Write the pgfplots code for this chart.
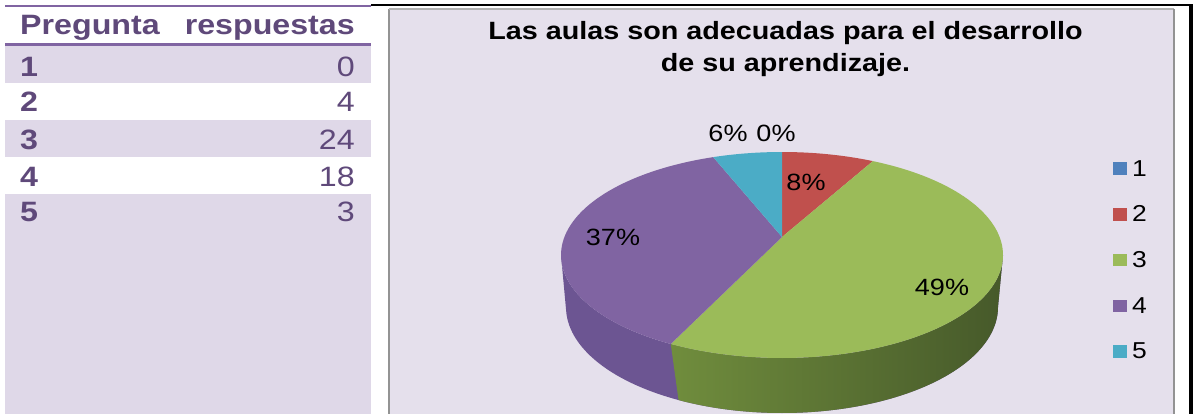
\documentclass[border=0pt]{standalone}
\usepackage{pgfplots}
\pgfplotsset{compat=1.18}
\usepackage{pgfplotstable}
\usepackage{fontspec}
\setmainfont{Liberation Sans}[FakeStretch=1.15]

\definecolor{tblpurple}{HTML}{5F497A}
\definecolor{tblline}{HTML}{8064A2}
\definecolor{tblshade}{HTML}{DFD8E8}
\definecolor{chartbg}{HTML}{E5E0EC}
\definecolor{c1}{HTML}{4F81BD}
\definecolor{c2}{HTML}{C0504D}
\definecolor{c3}{HTML}{9BBB59}
\definecolor{c4}{HTML}{8064A2}
\definecolor{c5}{HTML}{4BACC6}
\definecolor{c3sideL}{HTML}{708D3D}
\definecolor{c3sideD}{HTML}{46592A}
\definecolor{c4side}{HTML}{6C5592}

\newcommand\tblfont{\fontsize{28bp}{32bp}\selectfont}
\newcommand\titlefont{\fontsize{25bp}{30bp}\selectfont}
\newcommand\pctfont{\fontsize{23.5bp}{28bp}\selectfont}

\pgfplotstableread{
pregunta respuestas
1 0
2 4
3 24
4 18
5 3
}\datatable

\begin{document}
\begin{tikzpicture}
\pgfplotstablegetelem{0}{respuestas}\of\datatable \let\vA\pgfplotsretval
\pgfplotstablegetelem{1}{respuestas}\of\datatable \let\vB\pgfplotsretval
\pgfplotstablegetelem{2}{respuestas}\of\datatable \let\vC\pgfplotsretval
\pgfplotstablegetelem{3}{respuestas}\of\datatable \let\vD\pgfplotsretval
\pgfplotstablegetelem{4}{respuestas}\of\datatable \let\vE\pgfplotsretval
\pgfplotstablegetelem{0}{pregunta}\of\datatable \let\qA\pgfplotsretval
\pgfplotstablegetelem{1}{pregunta}\of\datatable \let\qB\pgfplotsretval
\pgfplotstablegetelem{2}{pregunta}\of\datatable \let\qC\pgfplotsretval
\pgfplotstablegetelem{3}{pregunta}\of\datatable \let\qD\pgfplotsretval
\pgfplotstablegetelem{4}{pregunta}\of\datatable \let\qE\pgfplotsretval
\pgfmathsetmacro\tot{\vA+\vB+\vC+\vD+\vE}
\pgfmathsetmacro\aA{\vA/\tot*360}
\pgfmathsetmacro\aB{(\vA+\vB)/\tot*360}
\pgfmathsetmacro\aC{(\vA+\vB+\vC)/\tot*360}
\pgfmathsetmacro\aD{(\vA+\vB+\vC+\vD)/\tot*360}
\pgfmathsetmacro\aE{360}
% perspective: slice angle -> angle on the projected rim
\pgfmathsetmacro\wC{\aC-10.4*sin(\aC)}
\begin{axis}[
  at={(0,0)}, anchor=south west,
  width=1193bp, height=414bp, scale only axis,
  xmin=0, xmax=1193, ymin=0, ymax=414, y dir=reverse,
  hide axis, clip=false,
  declare function={
    warp(\t)=\t-10.4*sin(\t);
    rimx(\t)=782+221*sin(\t);
    rimy(\t)=255-103*cos(\t);
    botx(\t)=782+216*sin(\t);
    boty(\t)=307-106*cos(\t);
  },
  legend image code/.code={\fill[#1,draw=none] (0bp,-6bp) rectangle (14bp,6.5bp);},
  legend style={at={(axis cs:1113,158)}, anchor=north west, draw=none, fill=none,
    font=\fontsize{23bp}{23bp}\selectfont, row sep=24.3bp, inner sep=0pt,
    nodes={inner sep=2bp}, /tikz/every odd column/.style={column sep=3bp}},
  legend cell align=left,
]
% backgrounds
\fill[chartbg] (390,9) rectangle (1174,414);
\draw[gray!85, line width=2bp] (389,9) -- (389,414);
\draw[gray!60, line width=1.5bp] (389,9) -- (1174,9);
\draw[gray!85, line width=2bp] (1174,9) -- (1174,414);
\fill[black] (1189,4.3) rectangle (1193,414);
\fill[tblline] (5,5) rectangle (371,6.7);
\fill[black] (371,4.3) rectangle (1193,6);
% table
\fill[tblshade] (5,46) rectangle (371,83);
\fill[tblshade] (5,120) rectangle (371,157);
\fill[tblshade] (5,194) rectangle (371,414);
\fill[tblline] (5,43.5) rectangle (371,46);
\node[anchor=base west, inner sep=0, text=tblpurple, font=\tblfont\bfseries] at (20,35) {Pregunta};
\node[anchor=base east, inner sep=0, text=tblpurple, font=\tblfont\bfseries] at (355,35) {respuestas};
\node[anchor=base west, inner sep=0, text=tblpurple, font=\tblfont\bfseries] at (20,76.7) {\qA};
\node[anchor=base east, inner sep=0, text=tblpurple, font=\tblfont] at (355,76.7) {\vA};
\node[anchor=base west, inner sep=0, text=tblpurple, font=\tblfont\bfseries] at (20,111.7) {\qB};
\node[anchor=base east, inner sep=0, text=tblpurple, font=\tblfont] at (355,111.7) {\vB};
\node[anchor=base west, inner sep=0, text=tblpurple, font=\tblfont\bfseries] at (20,149) {\qC};
\node[anchor=base east, inner sep=0, text=tblpurple, font=\tblfont] at (355,149) {\vC};
\node[anchor=base west, inner sep=0, text=tblpurple, font=\tblfont\bfseries] at (20,186) {\qD};
\node[anchor=base east, inner sep=0, text=tblpurple, font=\tblfont] at (355,186) {\vD};
\node[anchor=base west, inner sep=0, text=tblpurple, font=\tblfont\bfseries] at (20,221.7) {\qE};
\node[anchor=base east, inner sep=0, text=tblpurple, font=\tblfont] at (355,221.7) {\vE};
% title
\node[anchor=base, inner sep=0, font=\titlefont\bfseries] at (785.5,39.3) {Las aulas son adecuadas para el desarrollo};
\node[anchor=base, inner sep=0, font=\titlefont\bfseries] at (785.5,71.7) {de su aprendizaje.};
% pie sides: purple base over the whole front, then green part on top
\addplot[forget plot, fill=c4side, draw=none, domain=0:2, samples=181]
  ({x<=1 ? rimx(90+180*x) : botx(270-180*(x-1))},
   {x<=1 ? rimy(90+180*x) : boty(270-180*(x-1))}) -- cycle;
\addplot[forget plot, left color=c3sideL, right color=c3sideD, draw=none, domain=0:2, samples=151]
  ({x<=1 ? rimx(90+(\wC-90)*x) : botx(\wC-(\wC-90)*(x-1))},
   {x<=1 ? rimy(90+(\wC-90)*x) : boty(\wC-(\wC-90)*(x-1))}) -- cycle;
% pie tops
\addplot[forget plot, fill=c2, draw=none, domain=\aA:\aB, samples=30] ({rimx(warp(x))},{rimy(warp(x))}) -- (782,237) -- cycle;
\addplot[forget plot, fill=c3, draw=none, domain=\aB:\aC, samples=90] ({rimx(warp(x))},{rimy(warp(x))}) -- (782,237) -- cycle;
\addplot[forget plot, fill=c4, draw=none, domain=\aC:\aD, samples=70] ({rimx(warp(x))},{rimy(warp(x))}) -- (782,237) -- cycle;
\addplot[forget plot, fill=c5, draw=none, domain=\aD:\aE, samples=30] ({rimx(warp(x))},{rimy(warp(x))}) -- (782,237) -- cycle;
% labels
\node[anchor=base, inner sep=0, font=\pctfont] at (728,141.7) {6\%};
\node[anchor=base, inner sep=0, font=\pctfont] at (776,141.7) {0\%};
\node[anchor=base, inner sep=0, font=\pctfont] at (806,190) {8\%};
\node[anchor=base, inner sep=0, font=\pctfont] at (613,245) {37\%};
\node[anchor=base, inner sep=0, font=\pctfont] at (942,295) {49\%};
% legend
\addlegendimage{fill=c1}\addlegendentry{1}
\addlegendimage{fill=c2}\addlegendentry{2}
\addlegendimage{fill=c3}\addlegendentry{3}
\addlegendimage{fill=c4}\addlegendentry{4}
\addlegendimage{fill=c5}\addlegendentry{5}
\end{axis}
\pgfresetboundingbox
\useasboundingbox (0,0) rectangle (1193bp,414bp);
\end{tikzpicture}
\end{document}
